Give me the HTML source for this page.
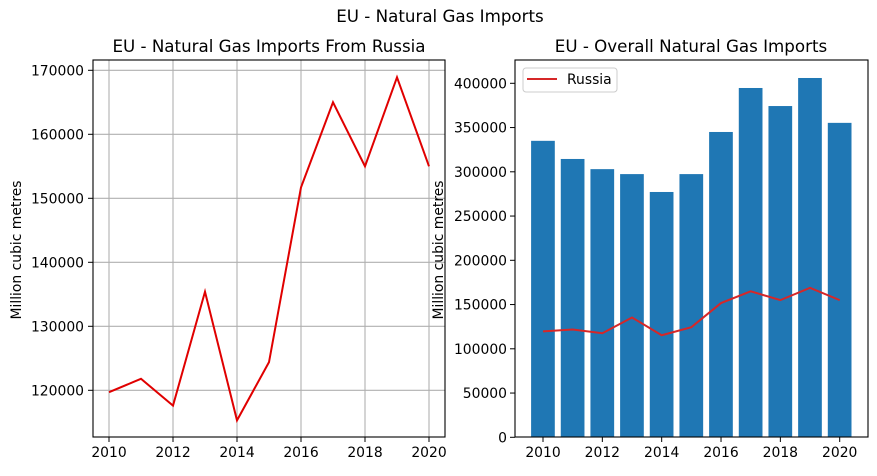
<!DOCTYPE html>
<html><head><meta charset="utf-8"><style>
body{margin:0;background:#fff}
svg text{font-family:"DejaVu Sans","Liberation Sans",sans-serif;fill:#000}
</style></head><body>
<svg id="c" width="877" height="471">
<text x="440" y="22" font-size="16.7" text-anchor="middle">EU - Natural Gas Imports</text>
<g id="L"></g>
<g id="R"></g>
</svg>
<script>
const years=[2010,2011,2012,2013,2014,2015,2016,2017,2018,2019,2020];
const russia=[119700,121800,117600,135400,115300,124400,151700,165000,155000,168900,155000];
const total=[335000,314500,303000,297400,277200,297400,345000,394700,374300,406000,355300];
const leftTicks=[120000,130000,140000,150000,160000,170000];
const rightTicks=[0,50000,100000,150000,200000,250000,300000,350000,400000];
const xTicks=[2010,2012,2014,2016,2018,2020];
const NS="http://www.w3.org/2000/svg";
const FS=13.9, TS=16.7;
function mk(p,t,a){const e=document.createElementNS(NS,t);for(const k in a)e.setAttribute(k,a[k]);p.appendChild(e);return e;}
// left
const L=document.getElementById('L');
const lx=y=>109+(y-2010)*32, ly=v=>390.3-(v-120000)*0.0064;
xTicks.forEach(t=>{const g=mk(L,'line',{x1:lx(t),x2:lx(t),y1:60,y2:437,stroke:'#b0b0b0','stroke-width':1.1});

mk(L,'line',{x1:lx(t),x2:lx(t),y1:437,y2:442,stroke:'#000'});
const tx=mk(L,'text',{x:lx(t),y:457,'font-size':FS,'text-anchor':'middle'});tx.textContent=t;
});
leftTicks.forEach(t=>{const g=mk(L,'line',{x1:93,x2:445,y1:ly(t),y2:ly(t),stroke:'#b0b0b0','stroke-width':1.1});

mk(L,'line',{x1:88,x2:93,y1:ly(t),y2:ly(t),stroke:'#000'});
const tx=mk(L,'text',{x:84,y:ly(t)+5,'font-size':FS,'text-anchor':'end'});tx.textContent=t;
});
const lp=mk(L,'polyline',{points:years.map((y,i)=>lx(y)+','+ly(russia[i])).join(' '),fill:'none',stroke:'#e00000','stroke-width':2});

const lb=mk(L,'rect',{x:93,y:60,width:352,height:377,fill:'none',stroke:'#000','stroke-width':1.1});

let t1=mk(L,'text',{x:269,y:52,'font-size':TS,'text-anchor':'middle'});t1.textContent='EU - Natural Gas Imports From Russia';

let yl=mk(L,'text',{x:0,y:0,'font-size':FS,'text-anchor':'middle',transform:'translate(21,250) rotate(-90)'});yl.textContent='Million cubic metres';

// right
const R=document.getElementById('R');
const rx=y=>543+(y-2010)*29.67, ry=v=>437.3-v*354/400000;
years.forEach((y,i)=>{const b=mk(R,'rect',{x:rx(y)-11.9,y:ry(total[i]),width:23.7,height:437.3-ry(total[i]),fill:'#1f77b4'});
});
const rp=mk(R,'polyline',{points:years.map((y,i)=>rx(y)+','+ry(russia[i])).join(' '),fill:'none',stroke:'#d62728','stroke-width':2});

xTicks.forEach(t=>{mk(R,'line',{x1:rx(t),x2:rx(t),y1:437,y2:442,stroke:'#000'});
const tx=mk(R,'text',{x:rx(t),y:457,'font-size':FS,'text-anchor':'middle'});tx.textContent=t;
});
rightTicks.forEach(t=>{mk(R,'line',{x1:510,x2:515,y1:ry(t),y2:ry(t),stroke:'#000'});
const tx=mk(R,'text',{x:507,y:ry(t)+5,'font-size':FS,'text-anchor':'end'});tx.textContent=t;
});
const rb=mk(R,'rect',{x:515,y:60,width:353,height:377,fill:'none',stroke:'#000','stroke-width':1.1});

let t2=mk(R,'text',{x:691,y:52,'font-size':TS,'text-anchor':'middle'});t2.textContent='EU - Overall Natural Gas Imports';

let yl2=mk(R,'text',{x:0,y:0,'font-size':FS,'text-anchor':'middle',transform:'translate(443,250) rotate(-90)'});yl2.textContent='Million cubic metres';

const lg=mk(R,'rect',{x:523,y:68,width:94,height:24,rx:3,fill:'#fff','fill-opacity':0.8,stroke:'#ccc'});

mk(R,'line',{x1:527,x2:557,y1:79,y2:79,stroke:'#d62728','stroke-width':2});
let lt=mk(R,'text',{x:567,y:84,'font-size':FS});lt.textContent='Russia';

</script>
</body></html>
